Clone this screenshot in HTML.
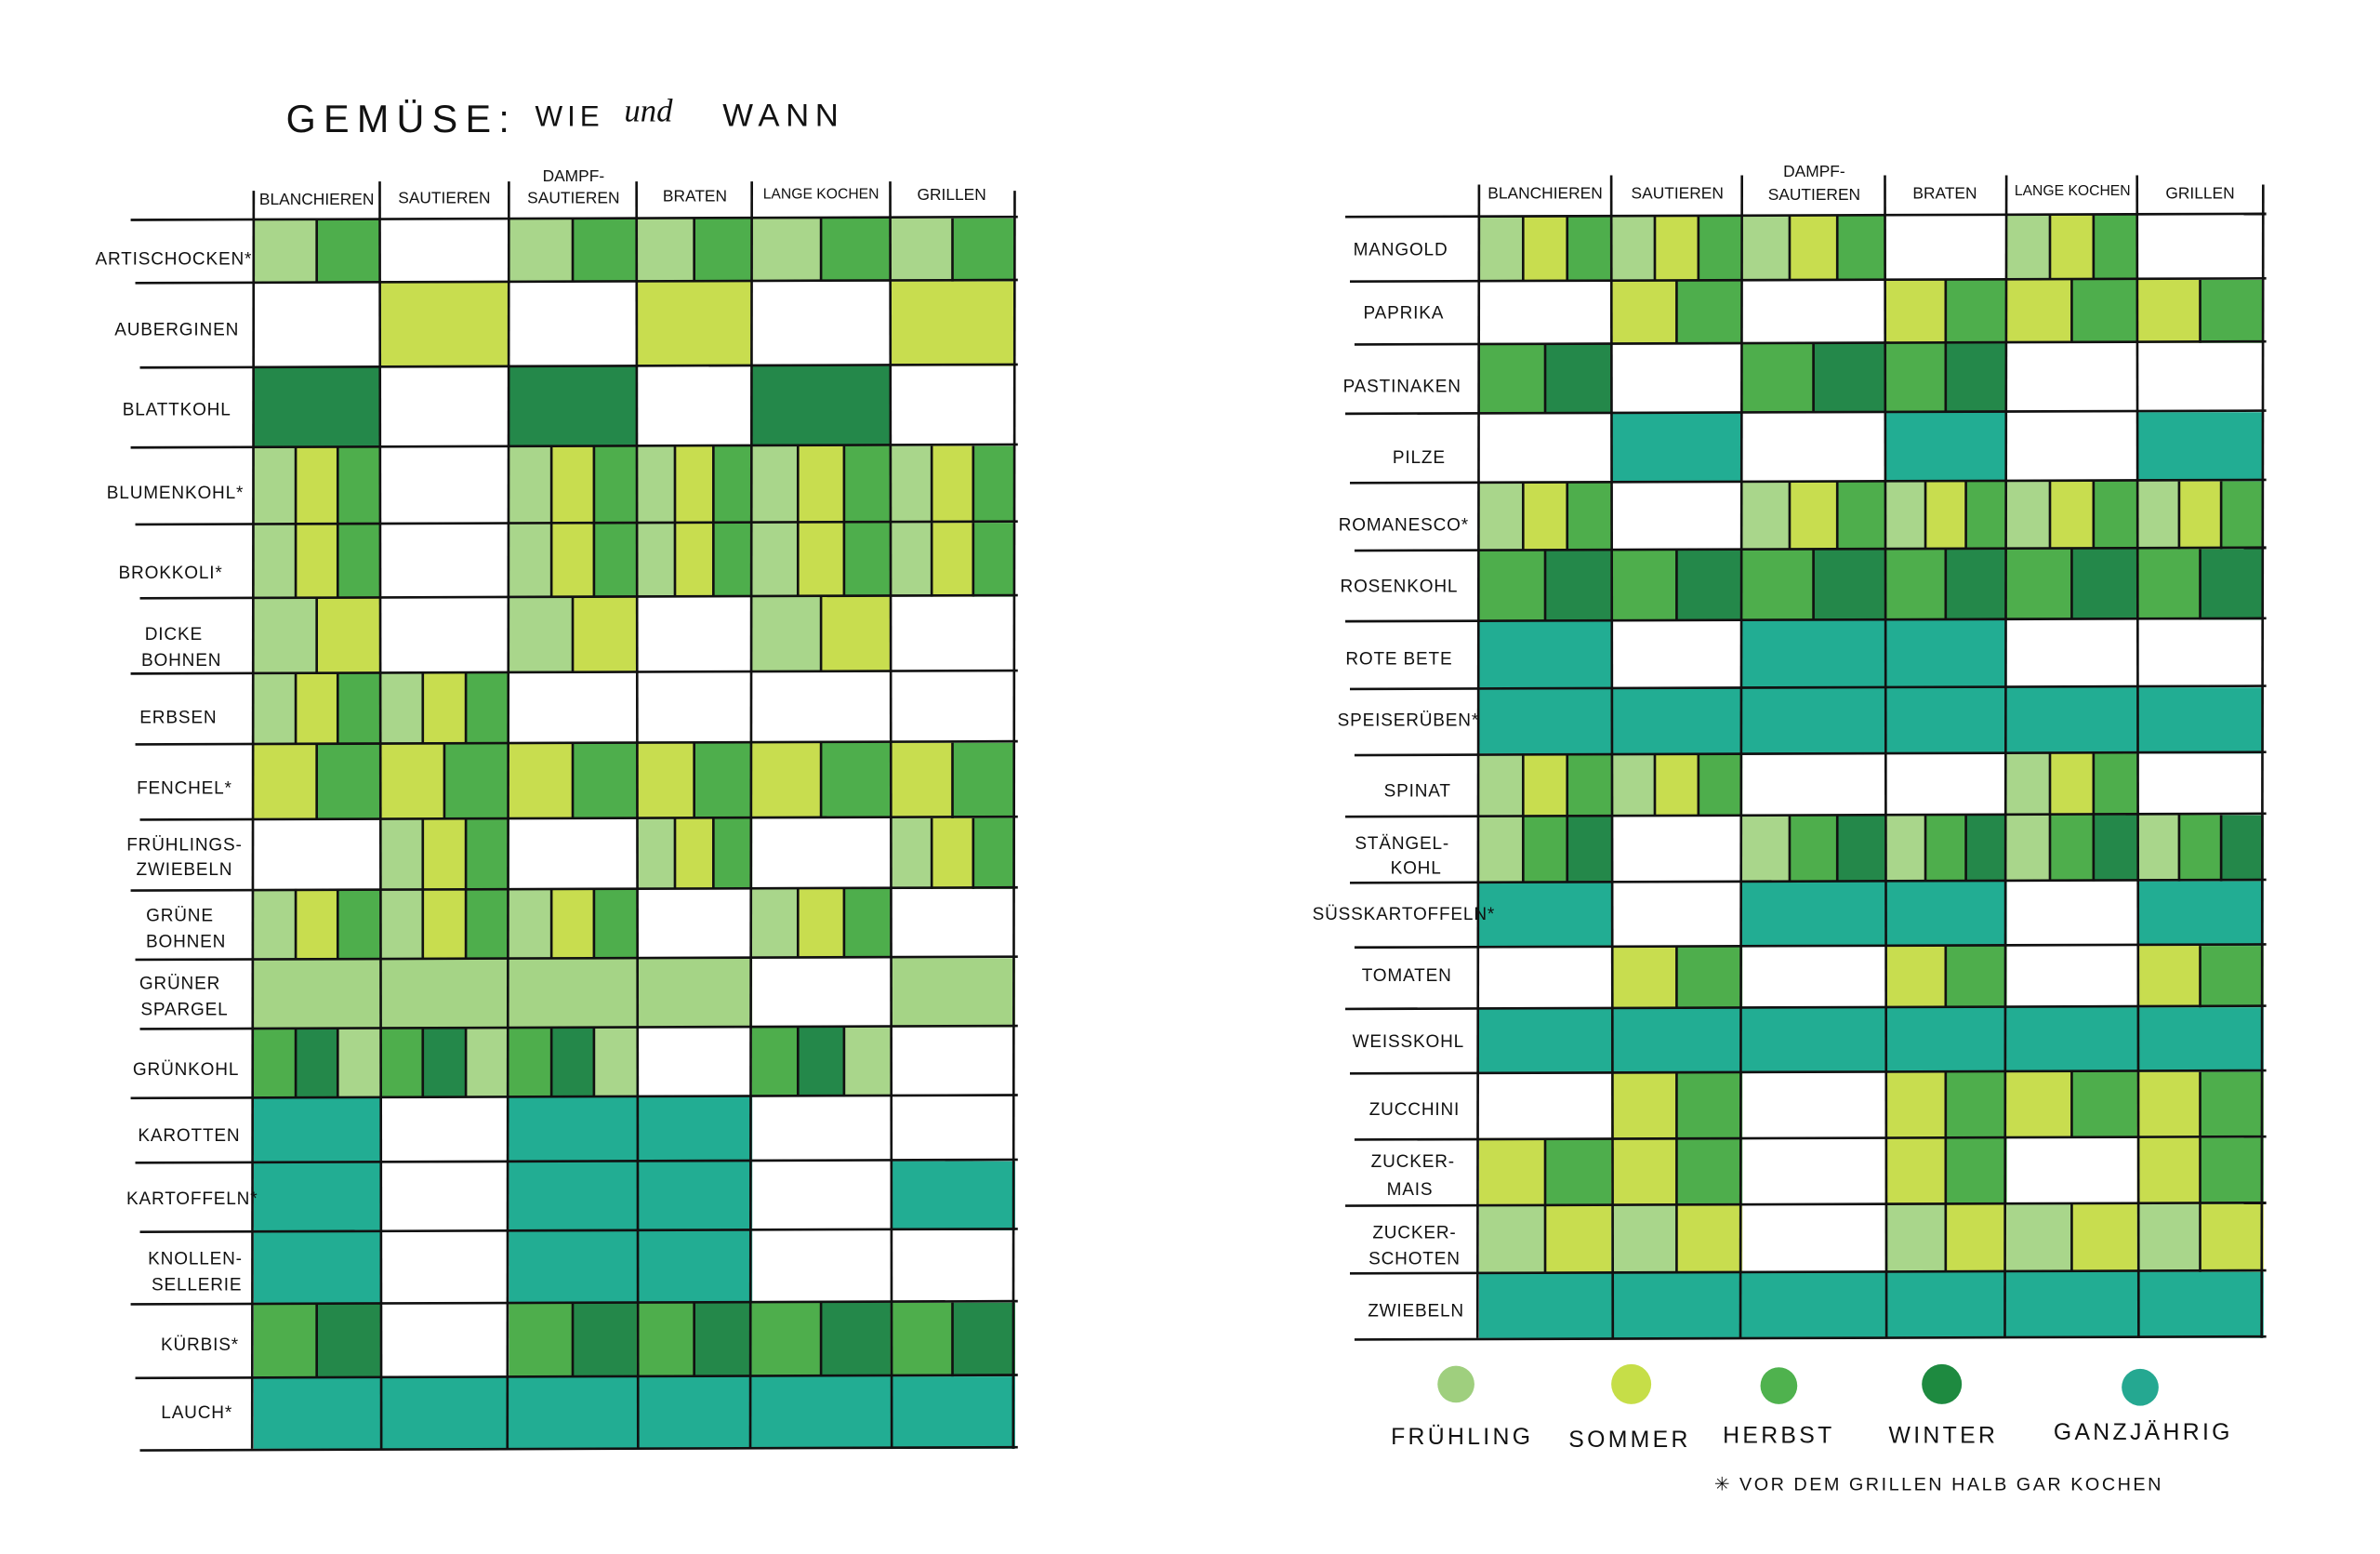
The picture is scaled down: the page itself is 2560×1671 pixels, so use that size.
<!DOCTYPE html>
<html><head><meta charset="utf-8"><style>
html,body{margin:0;padding:0;background:#fff;}
svg{display:block;}
text{font-family:"Liberation Sans",sans-serif;fill:#111;}
.h{font-size:10.5px;text-anchor:middle;}
.l{font-size:11.5px;text-anchor:middle;letter-spacing:0.5px;}
.lg{font-size:15px;text-anchor:middle;letter-spacing:2px;}
</style></head><body>
<svg id="s" width="2560" height="1671" viewBox="0 0 1548 1010.4" preserveAspectRatio="none" xmlns="http://www.w3.org/2000/svg">
<g id="cells"></g>
<g id="lines" stroke="#111" stroke-width="1.6" fill="none"></g>
<text x="186" y="86" style="font-size:25px;letter-spacing:5px">GEMÜSE:</text>
<text x="348" y="82" style="font-size:19px;letter-spacing:3px">WIE</text>
<text x="406" y="79" style="font-size:21px;font-style:italic;font-family:'Liberation Serif',serif">und</text>
<text x="470" y="82" style="font-size:21px;letter-spacing:4px">WANN</text>
<text class="h" x="206" y="133">BLANCHIEREN</text>
<text class="h" x="289" y="132">SAUTIEREN</text>
<text class="h" x="373" y="118">DAMPF-</text>
<text class="h" x="373" y="132">SAUTIEREN</text>
<text class="h" x="452" y="131">BRATEN</text>
<text class="h" x="534" y="129" style="font-size:9.5px">LANGE KOCHEN</text>
<text class="h" x="619" y="130">GRILLEN</text>
<text class="h" x="1005" y="129">BLANCHIEREN</text>
<text class="h" x="1091" y="129">SAUTIEREN</text>
<text class="h" x="1180" y="115">DAMPF-</text>
<text class="h" x="1180" y="130">SAUTIEREN</text>
<text class="h" x="1265" y="129">BRATEN</text>
<text class="h" x="1348" y="127" style="font-size:9.5px">LANGE KOCHEN</text>
<text class="h" x="1431" y="129">GRILLEN</text>
<text class="l" x="113" y="172">ARTISCHOCKEN*</text>
<text class="l" x="115" y="218">AUBERGINEN</text>
<text class="l" x="115" y="270">BLATTKOHL</text>
<text class="l" x="114" y="324">BLUMENKOHL*</text>
<text class="l" x="111" y="376">BROKKOLI*</text>
<text class="l" x="113" y="416">DICKE</text>
<text class="l" x="118" y="433">BOHNEN</text>
<text class="l" x="116" y="470">ERBSEN</text>
<text class="l" x="120" y="516">FENCHEL*</text>
<text class="l" x="120" y="553">FRÜHLINGS-</text>
<text class="l" x="120" y="569">ZWIEBELN</text>
<text class="l" x="117" y="599">GRÜNE</text>
<text class="l" x="121" y="616">BOHNEN</text>
<text class="l" x="117" y="643">GRÜNER</text>
<text class="l" x="120" y="660">SPARGEL</text>
<text class="l" x="121" y="699">GRÜNKOHL</text>
<text class="l" x="123" y="742">KAROTTEN</text>
<text class="l" x="125" y="783">KARTOFFELN*</text>
<text class="l" x="127" y="822">KNOLLEN-</text>
<text class="l" x="128" y="839">SELLERIE</text>
<text class="l" x="130" y="878">KÜRBIS*</text>
<text class="l" x="128" y="922">LAUCH*</text>
<text class="l" x="911" y="166">MANGOLD</text>
<text class="l" x="913" y="207">PAPRIKA</text>
<text class="l" x="912" y="255">PASTINAKEN</text>
<text class="l" x="923" y="301">PILZE</text>
<text class="l" x="913" y="345">ROMANESCO*</text>
<text class="l" x="910" y="385">ROSENKOHL</text>
<text class="l" x="910" y="432">ROTE BETE</text>
<text class="l" x="916" y="472">SPEISERÜBEN*</text>
<text class="l" x="922" y="518">SPINAT</text>
<text class="l" x="912" y="552">STÄNGEL-</text>
<text class="l" x="921" y="568">KOHL</text>
<text class="l" x="913" y="598">SÜSSKARTOFFELN*</text>
<text class="l" x="915" y="638">TOMATEN</text>
<text class="l" x="916" y="681">WEISSKOHL</text>
<text class="l" x="920" y="725">ZUCCHINI</text>
<text class="l" x="919" y="759">ZUCKER-</text>
<text class="l" x="917" y="777">MAIS</text>
<text class="l" x="920" y="805">ZUCKER-</text>
<text class="l" x="920" y="822">SCHOTEN</text>
<text class="l" x="921" y="856">ZWIEBELN</text>
<circle cx="947" cy="900" r="12" fill="#9fcf7e"/>
<circle cx="1061" cy="900" r="13" fill="#c6de48"/>
<circle cx="1157" cy="901" r="12" fill="#4fb24e"/>
<circle cx="1263" cy="900" r="13" fill="#1e8a40"/>
<circle cx="1392" cy="902" r="12" fill="#25a891"/>
<text class="lg" x="951" y="939">FRÜHLING</text>
<text class="lg" x="1060" y="941">SOMMER</text>
<text class="lg" x="1157" y="938">HERBST</text>
<text class="lg" x="1264" y="938">WINTER</text>
<text class="lg" x="1394" y="936">GANZJÄHRIG</text>
<text x="1115" y="969" style="font-size:12px;letter-spacing:1.5px">✳ VOR DEM GRILLEN HALB GAR KOCHEN</text>
</svg>
<script>
var C={F:"#a9d68b",S:"#c8dd4f",H:"#4eae4c",W:"#24884a",G:"#22ad93",P:"#a5d486"};
var L={cols:[165,247,331,414,489,579,660],rows:[142,183,238,290,340,388,437,483,532,578,623,668,713,755,800,847,895,942],lx:85,top:118,
data:[
["FH","","FH","FH","FH","FH"],["","S","","S","","S"],["W","","W","","W",""],
["FSH","","FSH","FSH","FSH","FSH"],["FSH","","FSH","FSH","FSH","FSH"],
["FS","","FS","","FS",""],["FSH","FSH","","","",""],["SH","SH","SH","SH","SH","SH"],
["","FSH","","FSH","","FSH"],["FSH","FSH","FSH","","FSH",""],["P","P","P","P","","P"],
["HWF","HWF","HWF","","HWF",""],["G","","G","G","",""],["G","","G","G","","G"],
["G","","G","G","",""],["HW","","HW","HW","HW","HW"],["G","G","G","G","G","G"]]};
var R={cols:[962,1048,1133,1226,1305,1390,1472],rows:[140,182,223,268,313,357,403,447,490,530,573,615,655,697,740,783,827,870],lx:875,top:114,
data:[
["FSH","FSH","FSH","","FSH",""],["","SH","","SH","SH","SH"],["HW","","HW","HW","",""],
["","G","","G","","G"],["FSH","","FSH","FSH","FSH","FSH"],["HW","HW","HW","HW","HW","HW"],
["G","","G","G","",""],["G","G","G","G","G","G"],["FSH","FSH","","","FSH",""],
["FHW","","FHW","FHW","FHW","FHW"],["G","","G","G","","G"],["","SH","","SH","","SH"],
["G","G","G","G","G","G"],["","SH","","SH","SH","SH"],["SH","SH","","SH","","SH"],
["FS","FS","","FS","FS","FS"],["G","G","G","G","G","G"]]};
var NS="http://www.w3.org/2000/svg",cg=document.getElementById("cells"),lg=document.getElementById("lines");
function el(p,t,a){var e=document.createElementNS(NS,t);for(var k in a)e.setAttribute(k,a[k]);p.appendChild(e);return e;}
[L,R].forEach(function(T){
 T.data.forEach(function(row,i){
  var y0=T.rows[i],y1=T.rows[i+1];
  row.forEach(function(s,j){
   if(!s)return;var x0=T.cols[j],x1=T.cols[j+1],w=(x1-x0)/s.length;
   for(var k=0;k<s.length;k++){
    el(cg,"rect",{x:x0+k*w,y:y0,width:w+0.3,height:y1-y0,fill:C[s[k]]});
    if(k>0)el(lg,"line",{x1:x0+k*w,y1:y0,x2:x0+k*w,y2:y1});
   }
  });
 });
 var xr=T.cols[6];
 T.rows.forEach(function(y,i){el(lg,"line",{x1:T.lx+(i%3)*3,y1:y+1,x2:xr+2,y2:y-1});});
 T.cols.forEach(function(x,j){el(lg,"line",{x1:x,y1:(j==0||j==6)?T.top+6:T.top,x2:x+(j%2?1:-1),y2:T.rows[17]});});
});
</script>
</body></html>
